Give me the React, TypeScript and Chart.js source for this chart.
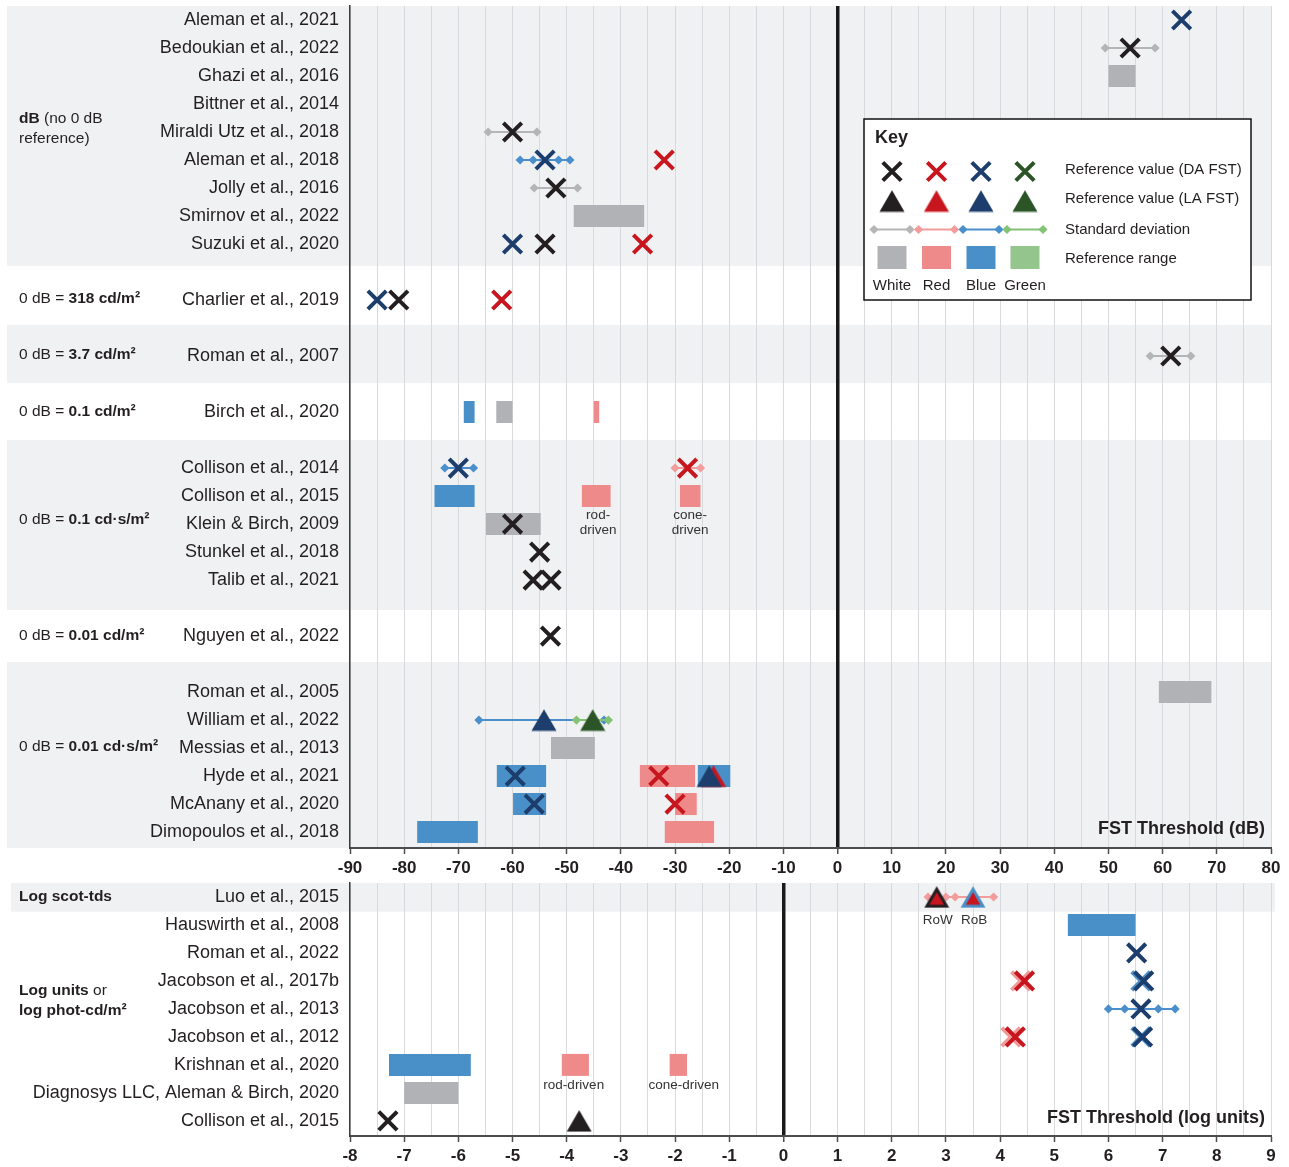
import React, { useEffect, useRef } from 'react';
import { Chart, registerables } from 'chart.js';

Chart.register(...registerables);

const FONT = "'Liberation Sans', Arial, Helvetica, sans-serif";
const TEXT = '#231f20';
const BAND = '#f0f1f3';
const GRID = '#d9dadd';

type Col = 'W' | 'R' | 'B' | 'G' | 'LR' | 'LB';
type Tri = 'W' | 'R' | 'B' | 'G' | 'RW' | 'RB';

// ---------------- Top panel: FST threshold in dB ----------------
const DB_STUDIES = [
  'Aleman et al., 2021', 'Bedoukian et al., 2022', 'Ghazi et al., 2016', 'Bittner et al., 2014',
  'Miraldi Utz et al., 2018', 'Aleman et al., 2018', 'Jolly et al., 2016', 'Smirnov et al., 2022',
  'Suzuki et al., 2020', 'Charlier et al., 2019', 'Roman et al., 2007', 'Birch et al., 2020',
  'Collison et al., 2014', 'Collison et al., 2015', 'Klein & Birch, 2009', 'Stunkel et al., 2018',
  'Talib et al., 2021', 'Nguyen et al., 2022', 'Roman et al., 2005', 'William et al., 2022',
  'Messias et al., 2013', 'Hyde et al., 2021', 'McAnany et al., 2020', 'Dimopoulos et al., 2018',
];
const DB_ROWS = [0, 1, 2, 3, 4, 5, 6, 7, 8, 10, 12, 14, 16, 17, 18, 19, 20, 22, 24, 25, 26, 27, 28, 29];
const DB_TICKS = { min: -90, max: 80, minor: 5, major: 10 };

// Reference value (DA FST): [row, dB, colour]
const DB_DA: [number, number, Col][] = [
  [0, 63.5, 'B'],
  [1, 54, 'W'],
  [4, -60, 'W'],
  [5, -54, 'B'], [5, -32, 'R'],
  [6, -52, 'W'],
  [8, -60, 'B'], [8, -54, 'W'], [8, -36, 'R'],
  [10, -85, 'B'], [10, -81, 'W'], [10, -62, 'R'],
  [12, 61.5, 'W'],
  [16, -70, 'B'], [16, -27.7, 'R'],
  [18, -60, 'W'],
  [19, -55, 'W'],
  [20, -56.2, 'W'], [20, -52.9, 'W'],
  [22, -53, 'W'],
  [27, -59.5, 'B'], [27, -33, 'R'],
  [28, -56, 'B'], [28, -30, 'R'],
];
// Reference value (LA FST): [row, dB, colour]
const DB_LA: [number, number, Tri][] = [
  [25, -54.2, 'B'], [25, -45.2, 'G'],
  [27, -22.9, 'R'], [27, -23.7, 'B'],
];
// Standard deviation markers: [row, colour, diamond positions]
const DB_SD: [number, Col, number[]][] = [
  [1, 'W', [49.4, 58.6]],
  [4, 'W', [-64.5, -55.5]],
  [5, 'B', [-58.6, -56.2, -51.5, -49.4]],
  [6, 'W', [-56, -48]],
  [12, 'W', [57.7, 65.2]],
  [16, 'B', [-72.5, -67.2]],
  [16, 'R', [-30, -25.3]],
  [25, 'G', [-48.2, -42.3]],
  [25, 'B', [-66.2, -43.1]],
];
// Reference range: [row, colour, low, high]
const DB_RANGE: [number, Col, number, number][] = [
  [2, 'W', 50, 55],
  [7, 'W', -48.7, -35.7],
  [14, 'B', -69, -67],
  [14, 'W', -63, -60],
  [14, 'R', -45, -44],
  [17, 'B', -74.4, -67],
  [17, 'R', -47.2, -41.9],
  [17, 'R', -29.1, -25.3],
  [18, 'W', -64.9, -54.8],
  [24, 'W', 59.3, 69],
  [26, 'W', -52.9, -44.8],
  [27, 'B', -62.9, -53.8],
  [27, 'R', -36.5, -26.3],
  [27, 'B', -25.8, -19.8],
  [28, 'B', -59.9, -53.8],
  [28, 'R', -30, -26],
  [29, 'B', -77.6, -66.4],
  [29, 'R', -31.9, -22.8],
];
const DB_NOTES: [number, number, string][] = [
  [-44.2, 17.68, 'rod-'], [-44.2, 18.24, 'driven'],
  [-27.2, 17.68, 'cone-'], [-27.2, 18.24, 'driven'],
];
const DB_GROUPS: { row: number; lines: [string, boolean][][] }[] = [
  { row: 3.53, lines: [[['dB', true], [' (no 0 dB', false]], [['reference)', false]]] },
  { row: 9.96, lines: [[['0 dB = ', false], ['318 cd/m²', true]]] },
  { row: 11.96, lines: [[['0 dB = ', false], ['3.7 cd/m²', true]]] },
  { row: 13.99, lines: [[['0 dB = ', false], ['0.1 cd/m²', true]]] },
  { row: 17.85, lines: [[['0 dB = ', false], ['0.1 cd·s/m²', true]]] },
  { row: 21.99, lines: [[['0 dB = ', false], ['0.01 cd/m²', true]]] },
  { row: 25.96, lines: [[['0 dB = ', false], ['0.01 cd·s/m²', true]]] },
];
const DB_BANDS: [number, number][] = [[-0.5, 8.78], [10.89, 12.97], [15.0, 21.07], [22.93, 29.57]];

// ---------------- Bottom panel: FST threshold in log units ----------------
const LOG_STUDIES = [
  'Luo et al., 2015', 'Hauswirth et al., 2008', 'Roman et al., 2022', 'Jacobson et al., 2017b',
  'Jacobson et al., 2013', 'Jacobson et al., 2012', 'Krishnan et al., 2020',
  'Diagnosys LLC, Aleman & Birch, 2020', 'Collison et al., 2015',
];
const LOG_ROWS = [0, 1, 2, 3, 4, 5, 6, 7, 8];
const LOG_TICKS = { min: -8, max: 9, minor: 0.5, major: 1 };

const LOG_DA: [number, number, Col][] = [
  [2, 6.52, 'B'],
  [3, 4.38, 'LR'], [3, 4.45, 'R'], [3, 6.6, 'LB'], [3, 6.65, 'B'],
  [4, 6.6, 'B'],
  [5, 4.2, 'LR'], [5, 4.28, 'R'], [5, 6.6, 'LB'], [5, 6.63, 'B'],
  [8, -7.3, 'W'],
];
const LOG_LA: [number, number, Tri][] = [
  [0, 2.83, 'RW'], [0, 3.5, 'RB'],
  [8, -3.77, 'W'],
];
const LOG_SD: [number, Col, number[]][] = [
  [0, 'R', [2.67, 3.0, 3.17, 3.88]],
  [4, 'B', [6.0, 6.3, 6.92, 7.23]],
];
const LOG_RANGE: [number, Col, number, number][] = [
  [1, 'B', 5.25, 6.5],
  [6, 'B', -7.28, -5.77],
  [6, 'R', -4.09, -3.59],
  [6, 'R', -2.1, -1.78],
  [7, 'W', -7, -6],
];
const LOG_NOTES: [number, number, string][] = [
  [2.85, 0.84, 'RoW'], [3.52, 0.84, 'RoB'],
  [-3.87, 6.73, 'rod-driven'], [-1.84, 6.73, 'cone-driven'],
];
const LOG_GROUPS: { row: number; lines: [string, boolean][][] }[] = [
  { row: -0.02, lines: [[['Log scot-tds', true]]] },
  { row: 3.36, lines: [[['Log units', true], [' or', false]], [['log phot-cd/m²', true]]] },
];
const LOG_BANDS: [number, number][] = [[-0.5, 0.525]];

// ---------------- Colours ----------------
const CROSS_COL: Record<string, string> = {
  W: '#231f20', R: '#c8161e', B: '#1d3e6d', G: '#2b5427', LR: '#f29a9a', LB: '#4a90c8',
};
const SD_COL: Record<string, string> = { W: '#b5b5b7', R: '#f39c9c', B: '#4a8fcb', G: '#84c275' };
const RANGE_COL: Record<string, string> = { W: '#b1b2b5', R: '#ef8a8a', B: '#4a90c8', G: '#94c58c' };

function makeTriangle(fill: string, edge?: string): HTMLCanvasElement {
  const w = 26, h = 23;
  const c = document.createElement('canvas');
  c.width = w;
  c.height = h;
  const g = c.getContext('2d')!;
  const top = [13, 0.75], bl = [0.5, 22.25], br = [25.5, 22.25];
  const path = (k: number, col: string) => {
    const cx = 13, cy = 15.06;
    const p = (q: number[]) => [cx + (q[0] - cx) * k, cy + (q[1] - cy) * k];
    const a = p(top), b = p(bl), d = p(br);
    g.fillStyle = col;
    g.beginPath();
    g.moveTo(a[0], a[1]);
    g.lineTo(b[0], b[1]);
    g.lineTo(d[0], d[1]);
    g.closePath();
    g.fill();
  };
  if (edge) {
    path(1, edge);
    path(0.58, fill);
  } else {
    path(1, fill);
  }
  return c;
}

let TRI_IMG: Record<string, HTMLCanvasElement> | null = null;
function triImages() {
  if (!TRI_IMG) {
    TRI_IMG = {
      W: makeTriangle(CROSS_COL.W),
      R: makeTriangle(CROSS_COL.R),
      B: makeTriangle(CROSS_COL.B),
      G: makeTriangle(CROSS_COL.G),
      RW: makeTriangle(CROSS_COL.R, CROSS_COL.W),
      RB: makeTriangle(CROSS_COL.R, '#4a90c8'),
    };
  }
  return TRI_IMG;
}

function buildDatasets(
  da: [number, number, Col][],
  la: [number, number, Tri][],
  sd: [number, Col, number[]][],
  range: [number, Col, number, number][],
) {
  const tri = triImages();
  const ds: any[] = [];
  ds.push({
    label: 'Reference value (DA FST)',
    data: da.map(([r, v]) => ({ x: v, y: r })),
    pointStyle: 'crossRot',
    pointRadius: 13,
    pointBorderWidth: 4,
    pointBorderColor: da.map((d) => CROSS_COL[d[2]]),
    pointBackgroundColor: 'rgba(0,0,0,0)',
    showLine: false,
    clip: false,
    order: 0,
  });
  ds.push({
    label: 'Reference value (LA FST)',
    data: la.map(([r, v]) => ({ x: v, y: r })),
    pointStyle: la.map((d) => tri[d[2]]),
    pointRadius: 13,
    showLine: false,
    clip: false,
    order: 1,
  });
  sd.forEach(([r, c, xs], i) =>
    ds.push({
      label: 'SD ' + i,
      data: xs.map((x) => ({ x, y: r })),
      showLine: true,
      borderColor: SD_COL[c],
      borderWidth: 2,
      pointStyle: 'rectRot',
      pointRadius: 4.6,
      pointBackgroundColor: SD_COL[c],
      pointBorderWidth: 0,
      order: 2,
    }),
  );
  range.forEach(([r, c, lo, hi], i) =>
    ds.push({
      label: 'Range ' + i,
      data: [{ x: lo, y: r }, { x: hi, y: r }],
      showLine: true,
      borderColor: RANGE_COL[c],
      borderWidth: 22,
      borderCapStyle: 'butt',
      pointRadius: 0,
      clip: false,
      order: 3,
    }),
  );
  return ds;
}

function drawRich(ctx: CanvasRenderingContext2D, x: number, y: number, segs: [string, boolean][], size: number) {
  let cx = x;
  for (const [t, b] of segs) {
    ctx.font = `${b ? 'bold ' : ''}${size}px ${FONT}`;
    ctx.fillText(t, cx, y);
    cx += ctx.measureText(t).width;
  }
}

function drawX(ctx: CanvasRenderingContext2D, x: number, y: number, color: string) {
  const a = 9.2;
  ctx.strokeStyle = color;
  ctx.lineWidth = 4;
  ctx.beginPath();
  ctx.moveTo(x - a, y - a);
  ctx.lineTo(x + a, y + a);
  ctx.moveTo(x + a, y - a);
  ctx.lineTo(x - a, y + a);
  ctx.stroke();
}

function drawKey(ctx: CanvasRenderingContext2D) {
  const tri = triImages();
  ctx.save();
  ctx.fillStyle = '#ffffff';
  ctx.fillRect(864, 119, 387, 181);
  ctx.strokeStyle = '#111';
  ctx.lineWidth = 1.5;
  ctx.strokeRect(864, 119, 387, 181);
  ctx.fillStyle = TEXT;
  ctx.textBaseline = 'middle';
  ctx.textAlign = 'left';
  ctx.font = `bold 18px ${FONT}`;
  ctx.fillText('Key', 875, 138);
  const cols = ['W', 'R', 'B', 'G'];
  const names = ['White', 'Red', 'Blue', 'Green'];
  const xs = [892, 936.5, 981, 1025];
  cols.forEach((c, i) => {
    const x = xs[i];
    drawX(ctx, x, 171.5, CROSS_COL[c]);
    const t = tri[c];
    ctx.drawImage(t, x - t.width / 2, 201 - t.height / 2);
    ctx.strokeStyle = SD_COL[c];
    ctx.lineWidth = 2;
    ctx.beginPath();
    ctx.moveTo(x - 18, 229.5);
    ctx.lineTo(x + 18, 229.5);
    ctx.stroke();
    ctx.fillStyle = SD_COL[c];
    for (const dx of [x - 18, x + 18]) {
      ctx.beginPath();
      ctx.moveTo(dx - 4.6, 229.5);
      ctx.lineTo(dx, 224.9);
      ctx.lineTo(dx + 4.6, 229.5);
      ctx.lineTo(dx, 234.1);
      ctx.closePath();
      ctx.fill();
    }
    ctx.fillStyle = RANGE_COL[c];
    ctx.fillRect(x - 14.5, 246, 29, 23);
    ctx.fillStyle = TEXT;
    ctx.font = `15px ${FONT}`;
    ctx.textAlign = 'center';
    ctx.fillText(names[i], x, 286);
  });
  ctx.textAlign = 'left';
  ctx.font = `15px ${FONT}`;
  ctx.fillText('Reference value (DA FST)', 1065, 169.5);
  ctx.fillText('Reference value (LA FST)', 1065, 198.5);
  ctx.fillText('Standard deviation', 1065, 230);
  ctx.fillText('Reference range', 1065, 259);
  ctx.restore();
}

interface PanelCfg {
  studies: string[];
  rows: number[];
  ticks: { min: number; max: number; minor: number; major: number };
  yMin: number;
  yMax: number;
  padTop: number;
  xAxisH: number;
  bands: [number, number][];
  bandLeft: number;
  bandRightExtra: number;
  groups: { row: number; lines: [string, boolean][][] }[];
  groupLineH: number;
  notes: [number, number, string][];
  title: string;
  titleY: number;
  key: boolean;
  da: [number, number, Col][];
  la: [number, number, Tri][];
  sd: [number, Col, number[]][];
  range: [number, Col, number, number][];
}

function makePanelPlugin(cfg: PanelCfg) {
  return {
    id: 'panel',
    beforeDraw(chart: any) {
      const { ctx, chartArea } = chart;
      const y = chart.scales.y;
      ctx.save();
      ctx.fillStyle = BAND;
      for (const [a, b] of cfg.bands) {
        const y1 = y.getPixelForValue(a);
        const y2 = y.getPixelForValue(b);
        ctx.fillRect(cfg.bandLeft, y1, chartArea.right + cfg.bandRightExtra - cfg.bandLeft, y2 - y1);
      }
      ctx.restore();
    },
    afterDraw(chart: any) {
      const { ctx, chartArea } = chart;
      const x = chart.scales.x;
      const y = chart.scales.y;
      ctx.save();
      ctx.fillStyle = TEXT;
      ctx.textBaseline = 'middle';
      ctx.textAlign = 'left';
      for (const g of cfg.groups) {
        const y0 = y.getPixelForValue(g.row);
        g.lines.forEach((line, i) => drawRich(ctx, 19, y0 + i * cfg.groupLineH, line, 15.5));
      }
      ctx.fillStyle = '#333';
      ctx.textAlign = 'center';
      ctx.font = `13.5px ${FONT}`;
      for (const [vx, vr, t] of cfg.notes) {
        ctx.fillText(t, x.getPixelForValue(vx), y.getPixelForValue(vr));
      }
      ctx.fillStyle = TEXT;
      ctx.textAlign = 'right';
      ctx.font = `bold 18px ${FONT}`;
      ctx.fillText(cfg.title, chartArea.right - 6, cfg.titleY);
      ctx.restore();
      if (cfg.key) drawKey(ctx);
    },
  };
}

function isMajor(v: number, major: number) {
  return Math.abs(v - Math.round(v / major) * major) < 1e-6;
}

function buildConfig(cfg: PanelCfg): any {
  const t = cfg.ticks;
  return {
    type: 'scatter',
    data: { datasets: buildDatasets(cfg.da, cfg.la, cfg.sd, cfg.range) },
    plugins: [makePanelPlugin(cfg)],
    options: {
      responsive: false,
      animation: false,
      devicePixelRatio: 1,
      events: [],
      layout: { autoPadding: false, padding: { top: cfg.padTop, right: 18, left: 0, bottom: 0 } },
      plugins: { legend: { display: false }, tooltip: { enabled: false } },
      scales: {
        x: {
          type: 'linear',
          min: t.min,
          max: t.max,
          afterFit: (s: any) => {
            s.height = cfg.xAxisH;
            s.paddingLeft = 0;
            s.paddingRight = 0;
          },
          ticks: {
            stepSize: t.minor,
            autoSkip: false,
            maxRotation: 0,
            minRotation: 0,
            padding: 4,
            color: TEXT,
            font: { family: FONT, size: 17, weight: 'bold' },
            callback: (v: number) => (isMajor(v, t.major) ? String(Math.round(v)) : ''),
          },
          grid: {
            color: (c: any) => (c.tick && Math.abs(c.tick.value) < 1e-6 ? '#1a1a1a' : GRID),
            lineWidth: (c: any) => (c.tick && Math.abs(c.tick.value) < 1e-6 ? 3.5 : 1),
            tickColor: (c: any) => (c.tick && isMajor(c.tick.value, t.major) ? '#4d4d4d' : 'rgba(0,0,0,0)'),
            tickWidth: 1.5,
            tickLength: 6,
            drawTicks: true,
          },
          border: { display: true, color: '#4d4d4d', width: 2 },
        },
        y: {
          type: 'linear',
          reverse: true,
          min: cfg.yMin,
          max: cfg.yMax,
          afterFit: (s: any) => {
            s.width = 350;
            s.paddingTop = 0;
            s.paddingBottom = 0;
          },
          afterBuildTicks: (s: any) => {
            s.ticks = cfg.rows.map((v) => ({ value: v }));
          },
          ticks: {
            autoSkip: false,
            padding: 11,
            color: TEXT,
            font: { family: FONT, size: 18 },
            callback: (v: number) => {
              const i = cfg.rows.indexOf(Math.round(v));
              return i >= 0 ? cfg.studies[i] : '';
            },
          },
          grid: { display: false, drawTicks: false },
          border: { display: true, color: '#3a3a3a', width: 1.5 },
        },
      },
    },
  };
}

const TOP_CFG: PanelCfg = {
  studies: DB_STUDIES,
  rows: DB_ROWS,
  ticks: DB_TICKS,
  yMin: -0.5,
  yMax: 29.57,
  padTop: 6,
  xAxisH: 32,
  bands: DB_BANDS,
  bandLeft: 7,
  bandRightExtra: 0,
  groups: DB_GROUPS,
  groupLineH: 20,
  notes: DB_NOTES,
  title: 'FST Threshold (dB)',
  titleY: 829,
  key: true,
  da: DB_DA,
  la: DB_LA,
  sd: DB_SD,
  range: DB_RANGE,
};

const BOTTOM_CFG: PanelCfg = {
  studies: LOG_STUDIES,
  rows: LOG_ROWS,
  ticks: LOG_TICKS,
  yMin: -0.5,
  yMax: 8.54,
  padTop: 3,
  xAxisH: 31,
  bands: LOG_BANDS,
  bandLeft: 11,
  bandRightExtra: 4,
  groups: LOG_GROUPS,
  groupLineH: 19.5,
  notes: LOG_NOTES,
  title: 'FST Threshold (log units)',
  titleY: 238,
  key: false,
  da: LOG_DA,
  la: LOG_LA,
  sd: LOG_SD,
  range: LOG_RANGE,
};

function Panel({ cfg, width, height }: { cfg: PanelCfg; width: number; height: number }) {
  const ref = useRef<HTMLCanvasElement>(null);
  useEffect(() => {
    const chart = new Chart(ref.current as HTMLCanvasElement, buildConfig(cfg));
    return () => chart.destroy();
  }, [cfg]);
  return <canvas ref={ref} width={width} height={height} style={{ display: 'block', width, height }} />;
}

export default function App() {
  return (
    <div style={{ position: 'absolute', left: 0, top: 0, width: 1289, height: 1167, background: '#ffffff' }}>
      <Panel cfg={TOP_CFG} width={1289} height={880} />
      <Panel cfg={BOTTOM_CFG} width={1289} height={287} />
    </div>
  );
}
